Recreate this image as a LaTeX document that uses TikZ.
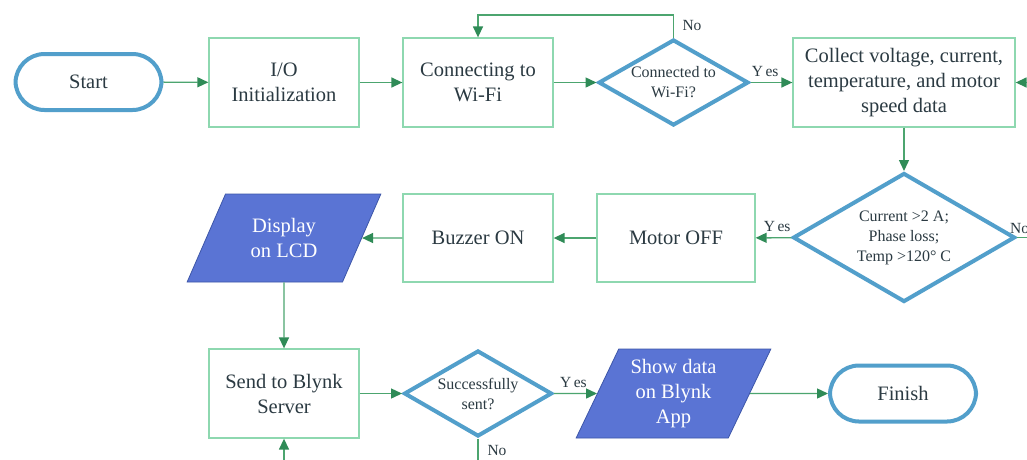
\documentclass[tikz,border=0pt]{standalone}
\usepackage{fontspec}
\setmainfont{Liberation Serif}
\usetikzlibrary{shapes.geometric,arrows.meta}
\definecolor{lnC}{HTML}{4CA56F}
\definecolor{arC}{HTML}{2F8B57}
\definecolor{boxC}{HTML}{8ED8B0}
\definecolor{bluC}{HTML}{529FCB}
\definecolor{parC}{HTML}{5A74D4}
\definecolor{parB}{HTML}{3D56A8}
\definecolor{txtC}{HTML}{2B3A42}
\tikzset{
  big/.style={font=\rmfamily\fontsize{20.5}{25}\selectfont, text=txtC, align=center},
  small/.style={font=\rmfamily\fontsize{16}{20}\selectfont, text=txtC, align=center},
  lbl/.style={font=\rmfamily\fontsize{15.5}{17}\selectfont, text=txtC, inner sep=0pt},
  procbox/.style={big, draw=boxC, line width=1.3pt, minimum width=150pt, minimum height=89pt, inner sep=2pt},
  term/.style={big, draw=bluC, line width=4pt, rounded corners=29pt, minimum width=146pt, minimum height=56pt},
  decide/.style={small, diamond, draw=bluC, line width=4pt, inner sep=-6pt, aspect=1.72},
  iobox/.style={big, text=white, trapezium, trapezium left angle=61, trapezium right angle=119, trapezium stretches=true, fill=parC, draw=parB, line width=0.8pt, minimum width=194pt, minimum height=88pt, inner sep=0pt},
  conn/.style={draw=lnC, line width=1.4pt, -{Triangle[length=11pt,width=10pt,color=arC]}},
  plain/.style={draw=lnC, line width=1.4pt},
}
\begin{document}
\begin{tikzpicture}[x=1pt,y=-1pt]
\useasboundingbox (0,0) rectangle (1027,459);
\clip (0,0) rectangle (1027,459);
\fill[white] (0,0) rectangle (1027,459);
% row 1
\node[term] (start) at (88.5,82) {Start};
\node[procbox] (init) at (284,82.5) {I/O\\Initialization};
\node[procbox] (wifi) at (478,82.5) {Connecting to\\Wi-Fi};
\node[decide, minimum width=150pt, minimum height=86pt] (cwifi) at (673.5,82.5) {Connected to\\Wi-Fi?};
\node[procbox, minimum width=222pt] (collect) at (904,82.5) {Collect voltage, current,\\temperature, and motor\\speed data};
% row 2
\node[decide, minimum width=222pt, minimum height=129pt] (fault) at (904,237.5) {Current \textgreater2 A;\\Phase loss;\\Temp \textgreater120° C};
\node[procbox, minimum width=158pt, minimum height=88pt] (motor) at (676,238) {Motor OFF};
\node[procbox, minimum height=88pt] (buzz) at (478,238) {Buzzer ON};
\node[iobox] (lcd) at (284,238) {Display\\on LCD};
% row 3
\node[procbox] (send) at (284,393.5) {Send to Blynk\\Server};
\node[decide, minimum width=148pt, minimum height=86pt] (sent) at (478,393.5) {Successfully\\sent?};
\node[iobox, minimum width=195pt, minimum height=89pt, trapezium left angle=64, trapezium right angle=116] (app) at (673.5,393.5) {Show data\\on Blynk\\App};
\node[term] (finish) at (903,393.5) {Finish};
% off-picture ends
\coordinate (rin) at (1040,82.5);
\coordinate (rout) at (1045,237.5);
\coordinate (bout) at (478,475);
\coordinate (bin) at (284,475);
\coordinate (loopA) at (673.5,15);
\coordinate (loopB) at (478,15);
% connectors
\draw[conn] (start) -- (init);
\draw[conn] (init) -- (wifi);
\draw[conn] (wifi) -- (cwifi);
\draw[conn] (cwifi) -- node[lbl, above=5pt, pos=0.35] {Y\,es} (collect);
\draw[conn] (cwifi.north) -- (loopA) -- (loopB) -- (wifi.north);
\node[lbl] (lno1) at (692,25) {No};
\draw[conn] (rin) -- (collect.east);
\draw[conn] (collect) -- (fault);
\draw[conn] (fault) -- node[lbl, above=5pt, pos=0.4] {Y\,es} (motor);
\draw[plain] (fault.east) -- (rout);
\node[lbl, anchor=west] (lno2) at (1010,228) {No};
\draw[conn] (motor) -- (buzz);
\draw[conn] (buzz) -- (lcd.east);
\draw[conn] (lcd.south) -- (send);
\draw[conn] (bin) -- (send.south);
\draw[conn] (send) -- (sent);
\draw[conn] (sent.east) -- node[lbl, above=5pt, pos=0.45] {Y\,es} (app.west);
\draw[plain] (sent.south) -- (bout);
\node[lbl] (lno3) at (497,450) {No};
\draw[conn] (app.east) -- (finish);
\end{tikzpicture}
\end{document}
